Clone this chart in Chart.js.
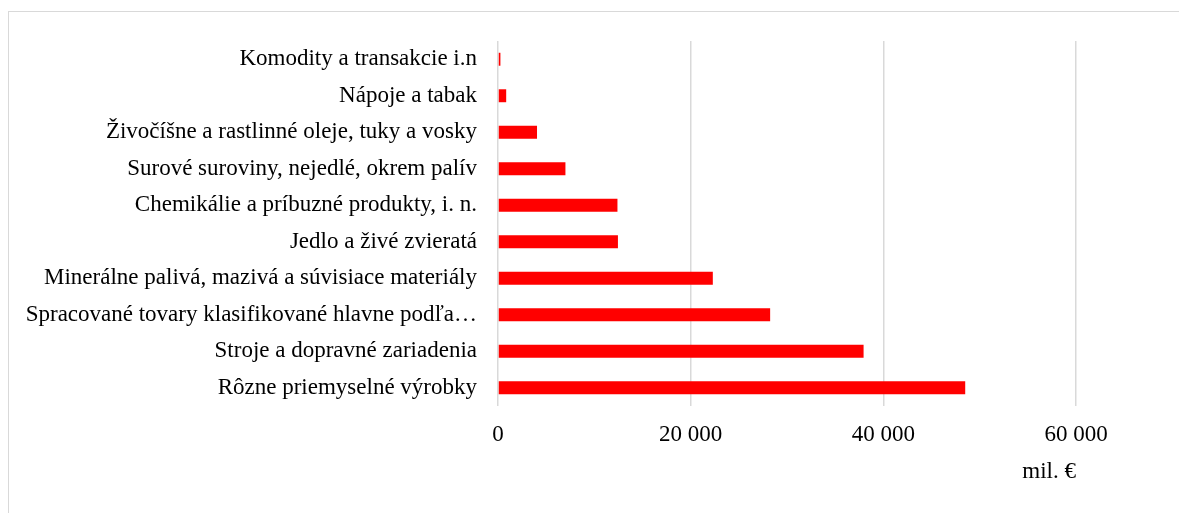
<!DOCTYPE html>
<html>
<head>
<meta charset="utf-8">
<script src="https://cdn.jsdelivr.net/npm/chart.js@4"></script>
<style>
  body { margin: 0; background: #fff; overflow: hidden; }
  #frame { position: absolute; left: 8px; top: 11px; width: 1200px; height: 600px; border: 1px solid #d9d9d9; }
  #chart { position: absolute; left: 0; top: 0; }
</style>
</head>
<body>
<div id="frame"></div>
<canvas id="chart" width="1179" height="513"></canvas>
<script>
// kategórie tovarov (zhora nadol)
const categories = [
    'Komodity a transakcie i.n',
    'Nápoje a tabak',
    'Živočíšne a rastlinné oleje, tuky a vosky',
    'Surové suroviny, nejedlé, okrem palív',
    'Chemikálie a príbuzné produkty, i. n.',
    'Jedlo a živé zvieratá',
    'Minerálne palivá, mazivá a súvisiace materiály',
    'Spracované tovary klasifikované hlavne podľa…',
    'Stroje a dopravné zariadenia',
    'Rôzne priemyselné výrobky'
]
// hodnoty v mil. €
const values = [250, 850, 4050, 7000, 12400, 12450, 22300, 28250, 37950, 48500]
const xTicks = [0, 20000, 40000, 60000]
const axisTitle = 'mil. €'

const font = { family: "'Liberation Serif', 'Times New Roman', serif", size: 23 }

new Chart(document.getElementById('chart'), {
    type: 'bar',
    data: {
        labels: categories,
        datasets: [{
            data: values,
            backgroundColor: '#ff0000',
            barPercentage: 0.355,
            categoryPercentage: 1
        }]
    },
    options: {
        indexAxis: 'y',
        responsive: false,
        animation: false,
        layout: { padding: { left: 0, right: 103, top: 41, bottom: 0 } },
        plugins: { legend: { display: false }, tooltip: { enabled: false } },
        scales: {
            x: {
                min: 0,
                max: 60000,
                afterBuildTicks: (scale) => {
                    scale.ticks = xTicks.map(v => ({ value: v }))
                },
                afterFit: (scale) => { scale.height = 107 },
                ticks: {
                    color: '#000',
                    font: font,
                    padding: 15,
                    maxRotation: 0,
                    callback: (v) => v.toLocaleString('fr-FR').replace(/\u202f|\u00a0/g, ' ')
                },
                grid: { color: '#d9d9d9', lineWidth: 1.5, drawTicks: false },
                border: { display: false },
                title: {
                    display: true,
                    text: axisTitle,
                    align: 'end',
                    color: '#000',
                    font: font,
                    padding: { top: 27, bottom: 27 }
                }
            },
            y: {
                afterFit: (scale) => { scale.width = 498 },
                ticks: { color: '#000', font: font, padding: 21, autoSkip: false },
                grid: { display: false, drawTicks: false },
                border: { display: false }
            }
        }
    }
})
</script>
</body>
</html>
